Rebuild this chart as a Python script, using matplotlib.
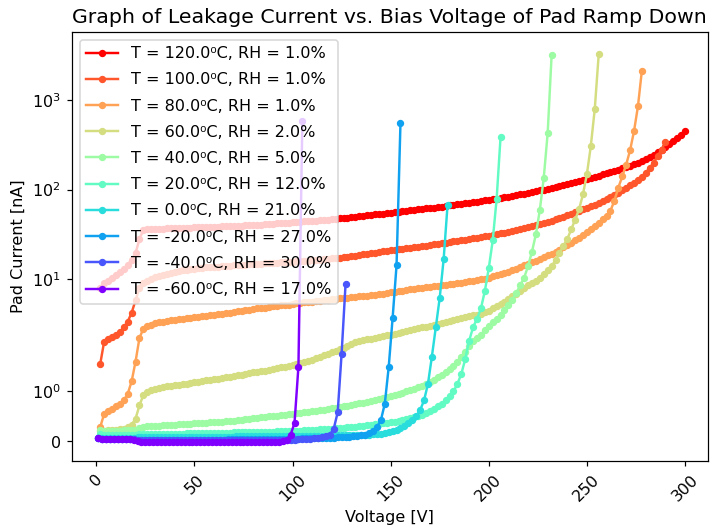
import numpy as np
import matplotlib.pyplot as plt

temps = [120.0, 100.0, 80.0, 60.0, 40.0, 20.0, 0.0, -20.0, -40.0, -60.0]
humid = [1.0, 1.0, 1.0, 2.0, 5.0, 12.0, 21.0, 27.0, 30.0, 17.0]

# ramp voltages in 2 V steps: first and last point of every run
v_first = [2, 2, 2, 2, 2, 2, 1, 1, 1, 1]
v_last = [300, 290, 278, 256, 232, 206, 179, 155, 127, 105]

# pad current [nA], ordered by increasing voltage
i_120 = [8.0, 9.0, 9.6, 10.3, 11.2, 12.0, 13.0, 14.5, 16.5, 19.5,
         28, 35.5, 36.0, 36.2, 36.4, 36.5, 36.6, 36.8, 36.9, 37.0,
         37.1, 37.3, 37.4, 37.6, 37.7, 37.9, 38.0, 38.2, 38.3, 38.5,
         38.6, 38.8, 39.0, 39.1, 39.3, 39.5, 39.6, 39.8, 40.0, 40.2,
         40.4, 40.7, 41.0, 41.3, 41.6, 41.9, 42.2, 42.5, 42.8, 43.0,
         43.3, 43.6, 44.0, 44.3, 44.7, 45.0, 45.4, 45.8, 46.2, 46.7,
         47.1, 47.6, 48.1, 48.6, 49.1, 49.7, 50.2, 50.8, 51.4, 52.0,
         52.7, 53.3, 54.0, 54.6, 55.3, 56.0, 56.7, 57.4, 58.1, 58.8,
         59.5, 60.2, 60.9, 61.6, 62.3, 63.0, 63.8, 64.6, 65.6, 66.8,
         67.8, 68.7, 69.6, 70.5, 71.4, 72.4, 73.4, 74.4, 75.5, 76.6,
         77.8, 79.0, 80.5, 82.0, 83.5, 85.0, 86.6, 88.3, 90.0, 91.8,
         93.7, 95.7, 97.8, 100, 102, 104.5, 107, 109.5, 112, 115,
         118, 121, 124, 127.5, 131, 135, 139, 143, 147.5, 152,
         157, 162, 167, 173, 179, 185, 192, 199, 206, 218,
         230, 245, 262, 280, 300, 322, 346, 373, 405, 450]
i_100 = [1.55, 2.0, 2.15, 2.25, 2.4, 2.55, 2.9, 3.35, 4.2, 5.8,
         8.0, 9.0, 9.6, 10.1, 10.5, 10.9, 11.2, 11.5, 11.8, 12.1,
         12.3, 12.5, 12.7, 12.9, 13.0, 13.2, 13.3, 13.5, 13.6, 13.7,
         13.8, 13.9, 14.0, 14.1, 14.2, 14.3, 14.4, 14.5, 14.6, 14.7,
         14.8, 14.9, 15.0, 15.1, 15.2, 15.3, 15.4, 15.5, 15.6, 15.7,
         15.8, 15.9, 16.0, 16.1, 16.2, 16.4, 16.5, 16.7, 16.8, 17.0,
         17.1, 17.3, 17.5, 17.7, 18.0, 18.3, 18.6, 18.9, 19.2, 19.5,
         19.8, 20.1, 20.4, 20.7, 21.0, 21.3, 21.6, 21.9, 22.2, 22.5,
         22.8, 23.1, 23.4, 23.7, 24.0, 24.4, 24.8, 25.2, 25.6, 26.0,
         26.4, 26.8, 27.2, 27.6, 28.0, 28.5, 29.0, 29.5, 30.0, 30.6,
         31.2, 31.8, 32.4, 33.0, 33.7, 34.5, 35.3, 36.1, 37.0, 38.0,
         39.0, 40.0, 41.1, 42.3, 43.6, 45.0, 46.5, 48.1, 49.8, 51.6,
         53.5, 55.5, 57.6, 60.0, 62.5, 65.2, 68.0, 71.0, 74.5, 78.0,
         82, 87, 92, 98, 104, 111, 119, 128, 139, 155,
         175, 200, 235, 280, 340]
i_80 = [0.28, 0.55, 0.6, 0.64, 0.7, 0.75, 0.82, 0.95, 1.2, 1.6,
        2.2, 2.8, 3.0, 3.1, 3.2, 3.3, 3.35, 3.4, 3.45, 3.5,
        3.55, 3.6, 3.65, 3.7, 3.75, 3.8, 3.85, 3.9, 3.95, 4.0,
        4.05, 4.1, 4.15, 4.2, 4.3, 4.4, 4.45, 4.5, 4.55, 4.6,
        4.7, 4.75, 4.8, 4.9, 4.95, 5.0, 5.1, 5.15, 5.2, 5.3,
        5.35, 5.4, 5.5, 5.55, 5.6, 5.7, 5.75, 5.8, 5.9, 5.95,
        6.0, 6.1, 6.15, 6.2, 6.3, 6.35, 6.4, 6.5, 6.55, 6.6,
        6.7, 6.8, 6.9, 7.0, 7.1, 7.2, 7.3, 7.4, 7.55, 7.7,
        7.8, 7.9, 8.0, 8.1, 8.2, 8.3, 8.45, 8.55, 8.65, 8.8,
        8.9, 9.0, 9.15, 9.3, 9.45, 9.6, 9.75, 9.9, 10.1, 10.4,
        10.7, 11.0, 11.3, 11.7, 12.1, 12.6, 13.1, 13.6, 14.2, 14.8,
        15.4, 16.0, 16.7, 17.5, 18.4, 19.3, 20.3, 21.4, 22.6, 24.0,
        25.5, 27.2, 29.0, 31.0, 33.3, 36.0, 39.0, 42.5, 46.5, 51,
        58, 75, 105, 140, 190, 275, 450, 850, 2130]
i_60 = [0.2, 0.21, 0.22, 0.22, 0.23, 0.24, 0.25, 0.28, 0.33, 0.45,
        0.72, 0.93, 0.98, 1.02, 1.05, 1.07, 1.09, 1.1, 1.11, 1.12,
        1.13, 1.14, 1.15, 1.17, 1.18, 1.19, 1.2, 1.22, 1.23, 1.24,
        1.25, 1.26, 1.28, 1.29, 1.3, 1.32, 1.33, 1.35, 1.36, 1.38,
        1.39, 1.41, 1.42, 1.44, 1.45, 1.47, 1.49, 1.5, 1.52, 1.54,
        1.56, 1.58, 1.6, 1.62, 1.64, 1.67, 1.7, 1.73, 1.76, 1.79,
        1.82, 1.85, 1.88, 1.92, 1.96, 2.0, 2.04, 2.08, 2.12, 2.16,
        2.2, 2.25, 2.3, 2.35, 2.4, 2.46, 2.52, 2.58, 2.64, 2.7,
        2.76, 2.82, 2.88, 2.95, 3.02, 3.1, 3.18, 3.26, 3.35, 3.44,
        3.52, 3.6, 3.68, 3.76, 3.84, 3.92, 4.0, 4.1, 4.25, 4.45,
        4.8, 5.0, 5.3, 5.6, 6.0, 6.4, 6.9, 7.4, 7.9, 8.5,
        9.0, 9.6, 10.3, 11.3, 12.5, 14.0, 16.2, 19.5, 23.5, 28,
        36, 46, 60, 89, 149, 309, 796, 3230]
i_40 = [0.22, 0.21, 0.21, 0.21, 0.21, 0.21, 0.22, 0.22, 0.22, 0.23,
        0.27, 0.29, 0.3, 0.3, 0.31, 0.31, 0.32, 0.32, 0.33, 0.33,
        0.34, 0.34, 0.35, 0.35, 0.36, 0.36, 0.37, 0.37, 0.38, 0.38,
        0.39, 0.39, 0.4, 0.41, 0.41, 0.42, 0.43, 0.44, 0.45, 0.46,
        0.47, 0.48, 0.49, 0.5, 0.5, 0.51, 0.52, 0.53, 0.54, 0.55,
        0.56, 0.57, 0.58, 0.59, 0.6, 0.61, 0.62, 0.63, 0.65, 0.66,
        0.67, 0.68, 0.7, 0.71, 0.73, 0.74, 0.76, 0.77, 0.79, 0.81,
        0.83, 0.85, 0.87, 0.89, 0.91, 0.93, 0.95, 0.97, 1.0, 1.02,
        1.05, 1.08, 1.11, 1.15, 1.19, 1.23, 1.28, 1.33, 1.39, 1.45,
        1.52, 1.6, 1.7, 1.8, 1.92, 2.05, 2.2, 2.4, 2.7, 3.0,
        3.3, 3.6, 4.0, 4.5, 5.1, 5.9, 7.0, 8.5, 10.3, 14.0,
        20.2, 31.7, 59, 135, 425, 3150]
i_20 = [0.14, 0.13, 0.13, 0.13, 0.13, 0.13, 0.13, 0.13, 0.13, 0.13,
        0.14, 0.14, 0.14, 0.14, 0.15, 0.15, 0.15, 0.15, 0.15, 0.15,
        0.15, 0.15, 0.16, 0.16, 0.16, 0.16, 0.16, 0.16, 0.17, 0.17,
        0.17, 0.17, 0.17, 0.17, 0.18, 0.18, 0.18, 0.18, 0.18, 0.18,
        0.19, 0.19, 0.19, 0.19, 0.19, 0.2, 0.2, 0.2, 0.2, 0.21,
        0.21, 0.21, 0.22, 0.22, 0.23, 0.23, 0.24, 0.24, 0.25, 0.25,
        0.26, 0.26, 0.27, 0.28, 0.28, 0.29, 0.3, 0.31, 0.32, 0.33,
        0.34, 0.35, 0.36, 0.37, 0.38, 0.39, 0.4, 0.42, 0.44, 0.46,
        0.48, 0.5, 0.53, 0.56, 0.6, 0.65, 0.7, 0.75, 0.82, 0.9,
        1.0, 1.15, 1.35, 1.65, 2.05, 2.9, 3.6, 4.7, 7.4, 13.3,
        27, 79, 389]
i_0 = [0.06, 0.06, 0.06, 0.06, 0.06, 0.06, 0.06, 0.07, 0.07, 0.07,
       0.08, 0.08, 0.08, 0.08, 0.08, 0.08, 0.08, 0.08, 0.08, 0.08,
       0.08, 0.08, 0.08, 0.09, 0.09, 0.09, 0.09, 0.09, 0.09, 0.09,
       0.09, 0.09, 0.09, 0.09, 0.09, 0.1, 0.1, 0.1, 0.1, 0.1,
       0.1, 0.1, 0.1, 0.1, 0.1, 0.1, 0.1, 0.1, 0.1, 0.1,
       0.1, 0.1, 0.11, 0.11, 0.11, 0.11, 0.11, 0.11, 0.11, 0.11,
       0.12, 0.12, 0.12, 0.12, 0.12, 0.12, 0.12, 0.13, 0.13, 0.13,
       0.14, 0.14, 0.15, 0.16, 0.18, 0.2, 0.23, 0.27, 0.31, 0.36,
       0.42, 0.5, 0.62, 0.82, 1.15, 1.7, 2.9, 6.2, 16.7, 68]
i_m20 = [0.06, 0.05, 0.05, 0.05, 0.05, 0.05, 0.05, 0.05, 0.04, 0.04,
         0.03, 0.03, 0.03, 0.03, 0.03, 0.03, 0.03, 0.03, 0.03, 0.03,
         0.03, 0.03, 0.03, 0.03, 0.03, 0.03, 0.03, 0.03, 0.03, 0.03,
         0.03, 0.03, 0.03, 0.04, 0.04, 0.04, 0.04, 0.04, 0.04, 0.04,
         0.04, 0.04, 0.04, 0.05, 0.05, 0.05, 0.05, 0.05, 0.05, 0.05,
         0.05, 0.05, 0.06, 0.06, 0.06, 0.06, 0.06, 0.07, 0.07, 0.07,
         0.07, 0.08, 0.08, 0.09, 0.09, 0.1, 0.11, 0.12, 0.13, 0.16,
         0.2, 0.28, 0.42, 0.75, 1.49, 3.7, 14.3, 560]
i_m40 = [0.06, 0.05, 0.05, 0.05, 0.05, 0.05, 0.05, 0.05, 0.04, 0.04,
         0.02, 0.02, 0.02, 0.02, 0.02, 0.02, 0.02, 0.02, 0.02, 0.02,
         0.02, 0.02, 0.02, 0.02, 0.02, 0.02, 0.02, 0.02, 0.02, 0.02,
         0.02, 0.02, 0.02, 0.02, 0.02, 0.02, 0.02, 0.02, 0.02, 0.02,
         0.02, 0.02, 0.02, 0.02, 0.02, 0.02, 0.02, 0.02, 0.03, 0.03,
         0.03, 0.04, 0.04, 0.05, 0.05, 0.06, 0.07, 0.08, 0.1, 0.13,
         0.25, 0.58, 1.76, 8.7]
i_m60 = [0.06, 0.05, 0.05, 0.05, 0.05, 0.05, 0.05, 0.04, 0.04, 0.03,
         0.0, -0.02, -0.02, -0.02, -0.02, -0.02, -0.02, -0.02, -0.02, -0.02,
         -0.02, -0.02, -0.02, -0.02, -0.02, -0.02, -0.02, -0.02, -0.02, -0.02,
         -0.02, -0.02, -0.02, -0.02, -0.02, -0.02, -0.02, -0.02, -0.02, -0.02,
         -0.02, -0.02, -0.02, -0.02, -0.02, -0.01, -0.01, 0.0, 0.03, 0.13,
         0.36, 1.5, 590]

currents = [i_120, i_100, i_80, i_60, i_40, i_20, i_0, i_m20, i_m40, i_m60]
colors = plt.cm.rainbow(np.linspace(1, 0, len(temps)))

plt.rcParams['font.size'] = 10.5

fig, ax = plt.subplots(figsize=(710 / 110, 529 / 110), dpi=110)
fig.subplots_adjust(left=0.1008, right=0.9972, bottom=0.1285, top=0.9401)

for k in range(len(temps)):
    volts = np.arange(v_first[k], v_last[k] + 1, 2)
    ax.plot(volts, currents[k], 'o-', color=colors[k], markersize=3.8,
            linewidth=1.6,
            label=f'T = {temps[k]:.1f}\u2070C, RH = {humid[k]:.1f}%')

ax.set_yscale('symlog', linthresh=2)
ax.set_xlim(-12.6, 311.7)
ax.set_ylim(-0.4, 5800)
ax.set_xlabel('Voltage [V]')
ax.set_ylabel('Pad Current [nA]')
ax.set_title('Graph of Leakage Current vs. Bias Voltage of Pad Ramp Down',
             fontsize=13.4)
plt.setp(ax.get_xticklabels(), rotation=45)
ax.legend(loc='upper left', labelspacing=0.7)

fig.savefig('out.png', dpi=110)
